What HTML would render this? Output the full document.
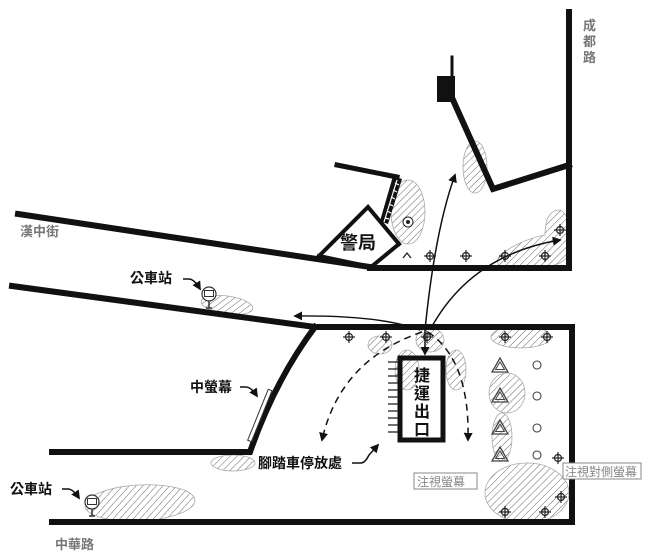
<!DOCTYPE html>
<html><head><meta charset="utf-8"><style>
html,body{margin:0;padding:0;background:#fff}
svg{display:block}
.t{font-family:"Liberation Sans","Noto Sans CJK TC",sans-serif;font-weight:bold}
</style></head><body>
<svg width="651" height="558" viewBox="0 0 651 558" xmlns="http://www.w3.org/2000/svg">
<defs>
<pattern id="h" width="5" height="5" patternUnits="userSpaceOnUse" patternTransform="rotate(45)">
<line x1="0" y1="0" x2="0" y2="5" stroke="#555" stroke-width="0.9"/></pattern>
<marker id="a" viewBox="0 0 10 10" refX="8" refY="5" markerWidth="9" markerHeight="9" markerUnits="userSpaceOnUse" orient="auto"><path d="M0,0L10,5L0,10z" fill="#111"/></marker>
<g id="c"><circle r="3.5" fill="none" stroke="#222" stroke-width="1.2"/><line x1="-6" y1="0" x2="6" y2="0" stroke="#222" stroke-width="1.2"/><line x1="0" y1="-6" x2="0" y2="6" stroke="#222" stroke-width="1.2"/></g>
<g id="tr"><path d="M0,-8L8,6H-8Z" fill="none" stroke="#444" stroke-width="1.3"/><path d="M0,-4L4.5,3.5H-4.5Z" fill="none" stroke="#444" stroke-width="1"/></g>
<g id="bus"><circle r="7" fill="#fff" stroke="#333" stroke-width="1.2"/><rect x="-4.5" y="-3.5" width="9" height="6" fill="none" stroke="#333"/><line x1="0" y1="7" x2="0" y2="14" stroke="#333" stroke-width="1.5"/><line x1="-3" y1="14" x2="3" y2="14" stroke="#333" stroke-width="1.5"/></g>
</defs>
<g fill="url(#h)" stroke="#aaa" stroke-width="0.8">
<ellipse cx="475" cy="167" rx="12" ry="26"/>
<ellipse cx="408" cy="212" rx="17" ry="32"/>
<path d="M500,255 Q520,240 545,235 Q545,210 560,210 Q572,215 570,250 Q565,268 540,266 L500,266 Q495,262 500,255Z"/>
<ellipse cx="227" cy="305" rx="26" ry="9" transform="rotate(8 227 305)"/>
<ellipse cx="233" cy="463" rx="22" ry="8"/>
<ellipse cx="140" cy="503" rx="55" ry="18" transform="rotate(-3 140 503)"/>
<ellipse cx="407" cy="370" rx="12" ry="20"/>
<ellipse cx="456" cy="370" rx="10" ry="20"/>
<ellipse cx="430" cy="340" rx="14" ry="12"/>
<ellipse cx="380" cy="345" rx="12" ry="9"/>
<ellipse cx="521" cy="337" rx="30" ry="11"/>
<ellipse cx="507" cy="393" rx="18" ry="20"/>
<ellipse cx="502" cy="437" rx="10" ry="24"/>
<ellipse cx="527" cy="493" rx="42" ry="30"/>
</g>
<g stroke="#111" fill="none" stroke-linecap="square">
<path d="M569,12V268H370" stroke-width="6"/>
<path d="M453,100L493,189L569,165" stroke-width="6"/>
<rect x="437" y="76" width="18" height="26" fill="#111" stroke="none"/>
<line x1="452" y1="57" x2="452" y2="78" stroke-width="3"/>
<path d="M18,214L370,267" stroke-width="6"/>
<path d="M337,165L397,177" stroke-width="5"/>
<path d="M319,256L368,207L399,244" stroke-width="4" fill="#fff"/>
<path d="M319,256L371,267L399,244" stroke-width="4"/>
<path d="M12,286L315,327H572V522H52" stroke-width="6"/>
<path d="M315,327Q275,380 250,452H52" stroke-width="6"/>
<rect x="400" y="358" width="43" height="82" stroke-width="5"/>
</g>
<path d="M393,176L402,179L388,224L380,221Z" fill="#111"/>
<g stroke="#fff" stroke-width="1.2">
<line x1="395" y1="183" x2="399" y2="185"/><line x1="393" y1="190" x2="397" y2="192"/><line x1="391" y1="197" x2="395" y2="199"/><line x1="389" y1="204" x2="393" y2="206"/><line x1="387" y1="211" x2="391" y2="213"/><line x1="385" y1="218" x2="389" y2="219"/>
<line x1="397" y1="180" x2="384" y2="222"/>
</g>
<rect x="258" y="388" width="4" height="55" fill="#fff" stroke="#333" transform="rotate(22 260 415)"/>
<circle cx="408" cy="222" r="5" fill="#fff" stroke="#222"/><circle cx="408" cy="222" r="2" fill="#222"/>
<g stroke="#222" stroke-width="1.3">
<line x1="388" y1="362" x2="398" y2="362"/><line x1="388" y1="369" x2="398" y2="369"/><line x1="388" y1="376" x2="398" y2="376"/><line x1="388" y1="383" x2="398" y2="383"/><line x1="388" y1="390" x2="398" y2="390"/><line x1="388" y1="397" x2="398" y2="397"/><line x1="388" y1="404" x2="398" y2="404"/><line x1="388" y1="411" x2="398" y2="411"/><line x1="388" y1="418" x2="398" y2="418"/><line x1="388" y1="425" x2="398" y2="425"/><line x1="388" y1="432" x2="398" y2="432"/>
</g>
<g fill="none" stroke="#111" stroke-width="1.5" marker-end="url(#a)">
<path d="M425,330L425,354"/>
<path d="M420,330Q380,315 295,316"/>
<path d="M425,330Q435,230 455,175"/>
<path d="M430,330Q470,255 560,240"/>
<path d="M422,332Q340,360 322,440" stroke-dasharray="7,5"/>
<path d="M428,332Q470,360 468,440" stroke-dasharray="7,5"/>
<path d="M183,279h6q5,0 11,10"/>
<path d="M240,387h6q5,0 11,9"/>
<path d="M352,463h9q4,0 8,-8l9,-10"/>
<path d="M62,489h6q5,0 11,9"/>
</g>
<path d="M403,258l4,-5 4,5" fill="none" stroke="#222" stroke-width="1.3"/>
<use href="#c" x="430" y="256"/><use href="#c" x="466" y="256"/><use href="#c" x="505" y="256"/><use href="#c" x="545" y="256"/><use href="#c" x="560" y="230"/>
<use href="#c" x="349" y="337"/><use href="#c" x="386" y="337"/><use href="#c" x="427" y="337"/><use href="#c" x="505" y="337"/><use href="#c" x="547" y="337"/><use href="#c" x="558" y="458"/><use href="#c" x="505" y="512"/><use href="#c" x="545" y="512"/><use href="#c" x="561" y="497"/>
<use href="#tr" x="500" y="366"/><use href="#tr" x="500" y="396"/><use href="#tr" x="500" y="428"/><use href="#tr" x="500" y="455"/>
<g fill="none" stroke="#444" stroke-width="1.1"><circle cx="537" cy="365" r="4"/><circle cx="537" cy="396" r="4"/><circle cx="537" cy="428" r="4"/><circle cx="537" cy="455" r="4"/></g>
<use href="#bus" x="209" y="294"/><use href="#bus" x="92" y="502"/>
<g class="t" fill="#111">
<text x="340" y="249" font-size="18">警局</text>
<text x="422" y="381" font-size="16" text-anchor="middle">捷</text>
<text x="422" y="399" font-size="16" text-anchor="middle">運</text>
<text x="422" y="417" font-size="16" text-anchor="middle">出</text>
<text x="422" y="435" font-size="16" text-anchor="middle">口</text>
<text x="130" y="283" font-size="14">公車站</text>
<text x="190" y="392" font-size="14">中螢幕</text>
<text x="258" y="468" font-size="14">腳踏車停放處</text>
<text x="10" y="494" font-size="14">公車站</text>
</g>
<g class="t" fill="#777" font-size="13">
<text x="20" y="236">漢中街</text>
<text x="55" y="549">中華路</text>
<text x="583" y="30">成</text><text x="583" y="46">都</text><text x="583" y="62">路</text>
</g>
<rect x="414" y="473" width="63" height="16" fill="#fff" stroke="#888"/>
<text x="417" y="486" class="t" font-size="12" fill="#888" style="font-weight:normal">注視螢幕</text>
<rect x="563" y="463" width="78" height="16" fill="#fff" stroke="#888"/>
<text x="565" y="476" class="t" font-size="12" fill="#888" style="font-weight:normal">注視對側螢幕</text>
</svg>
</body></html>
